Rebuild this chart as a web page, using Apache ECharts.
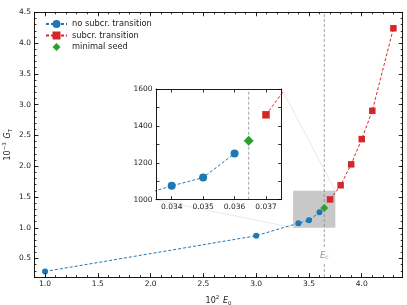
<!DOCTYPE html>
<html><head><meta charset="utf-8">
<script src="https://cdn.jsdelivr.net/npm/echarts@6/dist/echarts.min.js"></script>
<style>html,body{margin:0;padding:0;background:#fff}#c{width:407px;height:305px}</style>
</head><body><div id="c"></div>
<script>
// ---- data ----
const blueE0 = [1.0, 3.0, 3.4, 3.5, 3.6];
const blueGT = [0.29, 0.87, 1.075, 1.12, 1.25];
const redE0 = [3.7, 3.8, 3.9, 4.0, 4.1, 4.3];
const redGT = [1.46, 1.69, 2.03, 2.44, 2.90, 4.24];
const seedE0 = [3.645];
const seedGT = [1.32];
const Ec = 3.645;
const zoomBox = [3.35, 3.75, 1.0, 1.6]; // x0, x1, y0, y1 (main units)
const xMajor = [1.0, 1.5, 2.0, 2.5, 3.0, 3.5, 4.0];
const xMinor = [0.9,1.0,1.1,1.2,1.3,1.4,1.5,1.6,1.7,1.8,1.9,2.0,2.1,2.2,2.3,2.4,2.5,2.6,2.7,2.8,2.9,3.0,3.1,3.2,3.3,3.4,3.5,3.6,3.7,3.8,3.9,4.0,4.1,4.2,4.3];
const yMajor = [0.5, 1.0, 1.5, 2.0, 2.5, 3.0, 3.5, 4.0, 4.5];
const yMinor = [0.2,0.3,0.4,0.5,0.6,0.7,0.8,0.9,1.0,1.1,1.2,1.3,1.4,1.5,1.6,1.7,1.8,1.9,2.0,2.1,2.2,2.3,2.4,2.5,2.6,2.7,2.8,2.9,3.0,3.1,3.2,3.3,3.4,3.5,3.6,3.7,3.8,3.9,4.0,4.1,4.2,4.3,4.4,4.5];
const insetXTicks = [0.034, 0.035, 0.036, 0.037];
const insetYLabels = [1000, 1200, 1400, 1600];
const insetYTicks = [1000, 1100, 1200, 1300, 1400, 1500, 1600];

const FONT = 'DejaVu Sans';
const BLUE = '#1f77b4', RED = '#d62728', GREEN = '#2ca02c';
const pairs = (xs, ys, sx, sy) => xs.map((x, i) => [x * sx, ys[i] * sy]);

const chart = echarts.init(document.getElementById('c'), null, {renderer: 'canvas'});

function xAx(grid, pos, min, max, ticks, len, labels, fmt, lineShow) {
  return {
    type: 'value', gridIndex: grid, position: pos, min: min, max: max, z: grid ? 20 : 5,
    splitLine: {show: false},
    axisLine: {show: lineShow, onZero: false, lineStyle: {color: '#000', width: 0.9}},
    axisTick: {show: true, inside: true, length: len, customValues: ticks, lineStyle: {color: '#000', width: 0.8}},
    axisLabel: labels ? {show: true, customValues: labels, formatter: fmt, fontFamily: FONT, fontSize: 7.5, color: '#222', margin: 3.5} : {show: false}
  };
}

const RICH = {
  a: {fontSize: 8, fontFamily: FONT, color: '#222', lineHeight: 12},
  s: {fontSize: 5.5, fontFamily: FONT, color: '#222', verticalAlign: 'top', lineHeight: 12, padding: [0, 0, 4, 0]},
  i: {fontSize: 8, fontFamily: FONT, fontStyle: 'italic', color: '#222', lineHeight: 12},
  b: {fontSize: 5.5, fontFamily: FONT, color: '#222', verticalAlign: 'bottom', lineHeight: 12, padding: [3, 0, 0, 0]}
};
const mainXName = {
  name: '{a|10}{s|2} {i|E}{b|0}', nameLocation: 'middle', nameGap: 18,
  nameTextStyle: {fontFamily: FONT, color: '#222', rich: RICH}
};
const mainYName = {
  name: '{a|10}{s|−3} {i|G}{b|T}', nameLocation: 'middle', nameGap: 21, nameRotate: 90, nameMoveOverlap: false,
  nameTextStyle: {fontFamily: FONT, color: '#222', rich: RICH}
};

const xAxes = [
  Object.assign(xAx(0, 'bottom', 0.9, 4.388, xMajor, 4, xMajor, v => v.toFixed(1), true), mainXName),
  xAx(0, 'bottom', 0.9, 4.388, xMinor, 2, null, null, false),
  xAx(0, 'top', 0.9, 4.388, xMajor, 4, null, null, true),
  xAx(0, 'top', 0.9, 4.388, xMinor, 2, null, null, false),
  xAx(1, 'bottom', 0.0335, 0.0375, insetXTicks, 3.5, insetXTicks, v => v.toFixed(3), true),
  xAx(1, 'top', 0.0335, 0.0375, insetXTicks, 3.5, null, null, true)
];
const yAxes = [
  Object.assign(xAx(0, 'left', 0.2, 4.5, yMajor, 4, yMajor, v => v.toFixed(1), true), mainYName),
  xAx(0, 'left', 0.2, 4.5, yMinor, 2, null, null, false),
  xAx(0, 'right', 0.2, 4.5, yMajor, 4, null, null, true),
  xAx(0, 'right', 0.2, 4.5, yMinor, 2, null, null, false),
  xAx(1, 'left', 1000, 1600, insetYTicks, 3.5, insetYLabels, v => String(v), true),
  xAx(1, 'right', 1000, 1600, insetYTicks, 3.5, null, null, true)
];

function dataSeries(name, grid, data, color, symbol, size, z) {
  return {
    name: name, type: 'line', xAxisIndex: grid ? 4 : 0, yAxisIndex: grid ? 4 : 0,
    data: data, symbol: symbol, symbolSize: size, showSymbol: true, clip: true, z: z,
    lineStyle: {color: color, width: 1, type: [3, 2]},
    itemStyle: {color: color, borderColor: color, borderWidth: 0, opacity: 1},
    emphasis: {disabled: true}
  };
}

const series = [
  {
    type: 'line', xAxisIndex: 0, yAxisIndex: 0, data: [], z: 1, silent: true,
    markArea: {silent: true, itemStyle: {color: '#c8c8c8', opacity: 1},
      data: [[{coord: [zoomBox[0], zoomBox[2]]}, {coord: [zoomBox[1], zoomBox[3]]}]]}
  },
  {
    type: 'line', xAxisIndex: 0, yAxisIndex: 0, data: [[Ec, 0.2], [Ec, 4.5]], symbol: 'none', z: 2, silent: true,
    lineStyle: {color: '#888', width: 0.8, type: [3, 2]},
    markPoint: {silent: true, symbolSize: 0, data: [{coord: [Ec, 0.545], symbol: 'rect', symbolSize: 0,
      label: {show: true, position: 'inside', formatter: '{i|E}{b|c}', backgroundColor: '#fff', padding: [3, 1, 3, 1],
        rich: {i: {fontFamily: FONT, fontStyle: 'italic', fontSize: 8.5, color: '#999'},
               b: {fontFamily: FONT, fontStyle: 'italic', fontSize: 6, color: '#999', verticalAlign: 'bottom', padding: [3, 0, 0, 0]}}}}]}
  },
  dataSeries('no subcr. transition', 0, pairs(blueE0, blueGT, 1, 1), BLUE, 'circle', 6, 3),
  dataSeries('subcr. transition', 0, pairs(redE0, redGT, 1, 1), RED, 'rect', 6.5, 3),
  Object.assign(dataSeries('minimal seed', 0, pairs(seedE0, seedGT, 1, 1), GREEN, 'diamond', 8, 4), {lineStyle: {width: 0, color: GREEN}}),
  {
    type: 'line', xAxisIndex: 4, yAxisIndex: 4, data: [[Ec / 100, 1000], [Ec / 100, 1600]], symbol: 'none', z: 11, silent: true,
    lineStyle: {color: '#888', width: 0.8, type: [3, 2]}
  },
  dataSeries('no subcr. transition', 1, pairs(blueE0, blueGT, 0.01, 1000), BLUE, 'circle', 8, 12),
  dataSeries('subcr. transition', 1, pairs(redE0, redGT, 0.01, 1000), RED, 'rect', 7.5, 12),
  Object.assign(dataSeries('minimal seed', 1, pairs(seedE0, seedGT, 0.01, 1000), GREEN, 'diamond', 10, 13), {lineStyle: {width: 0, color: GREEN}})
];

chart.setOption({
  animation: false,
  backgroundColor: '#fff',
  grid: [
    {left: 34.5, right: 4.3, top: 12.3, bottom: 28, containLabel: false, outerBoundsMode: 'none'},
    {left: 156, top: 89, width: 125.7, height: 110.7, show: true, backgroundColor: '#fff', borderWidth: 0, z: 10, outerBoundsMode: 'none'}
  ],
  legend: {
    orient: 'vertical', left: 40, top: 15, itemWidth: 21, itemHeight: 10, itemGap: 3.5,
    data: ['no subcr. transition', 'subcr. transition', 'minimal seed'],
    textStyle: {fontFamily: FONT, fontSize: 8.3, color: '#222'}, selectedMode: false
  },
  xAxis: xAxes,
  yAxis: yAxes,
  series: series
});

// zoom-indicator connector lines, positioned through the axes
const px = (xi, v) => chart.convertToPixel({xAxisIndex: xi, yAxisIndex: xi}, v);
const inTR = px(4, [0.0375, 1600]);
const inBL = px(4, [0.0335, 1000]);
const rTR = px(0, [zoomBox[1], zoomBox[3]]);
const rBL = px(0, [zoomBox[0], zoomBox[2]]);
chart.setOption({graphic: [
  {type: 'line', z: 0, silent: true, shape: {x1: inTR[0], y1: inTR[1], x2: rTR[0], y2: rTR[1]}, style: {stroke: '#e2e2e2', lineWidth: 0.8}},
  {type: 'line', z: 0, silent: true, shape: {x1: inBL[0], y1: inBL[1], x2: rBL[0], y2: rBL[1]}, style: {stroke: '#e2e2e2', lineWidth: 0.8}}
]});
</script>
</body></html>
